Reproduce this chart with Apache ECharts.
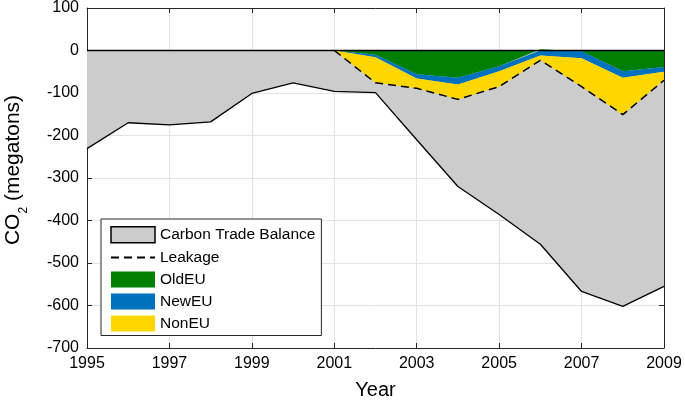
<!DOCTYPE html>
<html>
<head>
<meta charset="utf-8">
<script src="https://cdn.jsdelivr.net/npm/echarts@6/dist/echarts.min.js"></script>
<style>html,body{margin:0;padding:0;background:#fff;}#c{width:685px;height:403px;}</style>
</head>
<body>
<div id="c"></div>
<script>
const years = ['1995','1996','1997','1998','1999','2000','2001','2002','2003','2004','2005','2006','2007','2008','2009'];
const balance = [-231,-170,-175,-168,-101,-76,-96,-99,-210,-320,-386,-456,-567,-602,-555];
const leakage = ['-','-','-','-','-','-',0,-76,-89,-115,-85,-23,-85,-151,-70];
const oldEU = ['-','-','-','-','-','-',0,-10,-56,-64,-37,3,-2,-49,-39];
const newEU = ['-','-','-','-','-','-',0,-6,-10,-16,-12,-12,-16,-15,-11];
const nonEU = ['-','-','-','-','-','-',0,-60,-23,-35,-36,-11,-67,-87,-20];
const yTicks = {min:-700, max:100, interval:100};

const FONT = '"Liberation Sans", Arial, Helvetica, sans-serif';
const chart = echarts.init(document.getElementById('c'), null, {renderer:'canvas'});
const gridColor = '#e3e3e3';
const axisCommon = {
  axisLine:{show:true, onZero:false, lineStyle:{color:'#262626', width:1}},
  axisTick:{show:true, inside:true, length:5, lineStyle:{color:'#262626'}},
};
chart.setOption({
  animation:false,
  backgroundColor:'#fff',
  textStyle:{fontFamily:FONT},
  grid:{left:87, right:21, top:8, bottom:55, show:false, containLabel:false, outerBoundsMode:'none'},
  xAxis:[{
    type:'category', data:years, boundaryGap:false, position:'bottom',
    ...axisCommon,
    axisTick:{show:true, inside:true, length:5, interval:1, lineStyle:{color:'#262626'}},
    axisLabel:{interval:1, color:'#000', fontSize:16, margin:8, fontFamily:FONT},
    splitLine:{show:true, interval:1, lineStyle:{color:gridColor, width:1}},
    name:'Year', nameLocation:'middle', nameGap:32,
    nameTextStyle:{fontSize:20, color:'#000', fontFamily:FONT}
  },{
    type:'category', data:years, boundaryGap:false, position:'top',
    ...axisCommon,
    axisTick:{show:true, inside:true, length:5, interval:1, lineStyle:{color:'#262626'}},
    axisLabel:{show:false}, splitLine:{show:false}
  }],
  yAxis:[{
    type:'value', min:yTicks.min, max:yTicks.max, interval:yTicks.interval, position:'left',
    ...axisCommon,
    axisLabel:{color:'#000', fontSize:16, margin:8, fontFamily:FONT},
    splitLine:{show:true, lineStyle:{color:gridColor, width:1}},
    name:'CO{sub|2} (megatons)', nameLocation:'middle', nameGap:57,
    nameTextStyle:{fontSize:21, color:'#000', fontFamily:FONT, lineHeight:34, padding:[0,0,0,16],
      rich:{sub:{fontSize:12, verticalAlign:'bottom', lineHeight:12, color:'#000', fontFamily:FONT}}}
  },{
    type:'value', min:yTicks.min, max:yTicks.max, interval:yTicks.interval, position:'right',
    ...axisCommon,
    axisLabel:{show:false}, splitLine:{show:false}
  }],
  legend:{
    orient:'vertical', left:101, top:219,
    padding:[7,6,4,9], itemGap:6, itemWidth:44, itemHeight:16,
    backgroundColor:'#fff', borderColor:'#262626', borderWidth:1, borderRadius:0,
    textStyle:{fontSize:15.5, color:'#000', fontFamily:FONT},
    selectedMode:false,
    data:[
      {name:'Carbon Trade Balance', icon:'rect', itemStyle:{color:'#cccccc', borderColor:'#000', borderWidth:1.5}},
      {name:'Leakage', itemStyle:{color:'rgba(0,0,0,0)', borderColor:'rgba(0,0,0,0)', borderWidth:0, opacity:0}},
      {name:'OldEU', icon:'rect', itemStyle:{color:'#007f00', borderWidth:0}},
      {name:'NewEU', icon:'rect', itemStyle:{color:'#0072bd', borderWidth:0}},
      {name:'NonEU', icon:'rect', itemStyle:{color:'#ffd700', borderWidth:0}}
    ]
  },
  series:[
    {name:'Carbon Trade Balance', type:'line', data:balance, symbol:'none',
     itemStyle:{color:'#cccccc'}, lineStyle:{color:'#000', width:1.3},
     areaStyle:{color:'#cccccc', opacity:1}, z:2},
    {name:'OldEU', type:'line', stack:'leak', data:oldEU, symbol:'none',
     itemStyle:{color:'#007f00'}, lineStyle:{width:0}, areaStyle:{color:'#007f00', opacity:1}, z:3},
    {name:'NewEU', type:'line', stack:'leak', data:newEU, symbol:'none',
     itemStyle:{color:'#0072bd'}, lineStyle:{width:0}, areaStyle:{color:'#0072bd', opacity:1}, z:3},
    {name:'NonEU', type:'line', stack:'leak', data:nonEU, symbol:'none',
     itemStyle:{color:'#ffd700'}, lineStyle:{width:0}, areaStyle:{color:'#ffd700', opacity:1}, z:3},
    {name:'Leakage', type:'line', data:leakage, symbol:'none',
     itemStyle:{color:'#000'}, lineStyle:{color:'#000', width:1.5, type:[8,5]}, z:4,
     markLine:{silent:true, symbol:'none', label:{show:false},
       lineStyle:{color:'#000', width:1.3, type:'solid'}, data:[{yAxis:0}]}}
  ]
});
</script>
</body>
</html>
